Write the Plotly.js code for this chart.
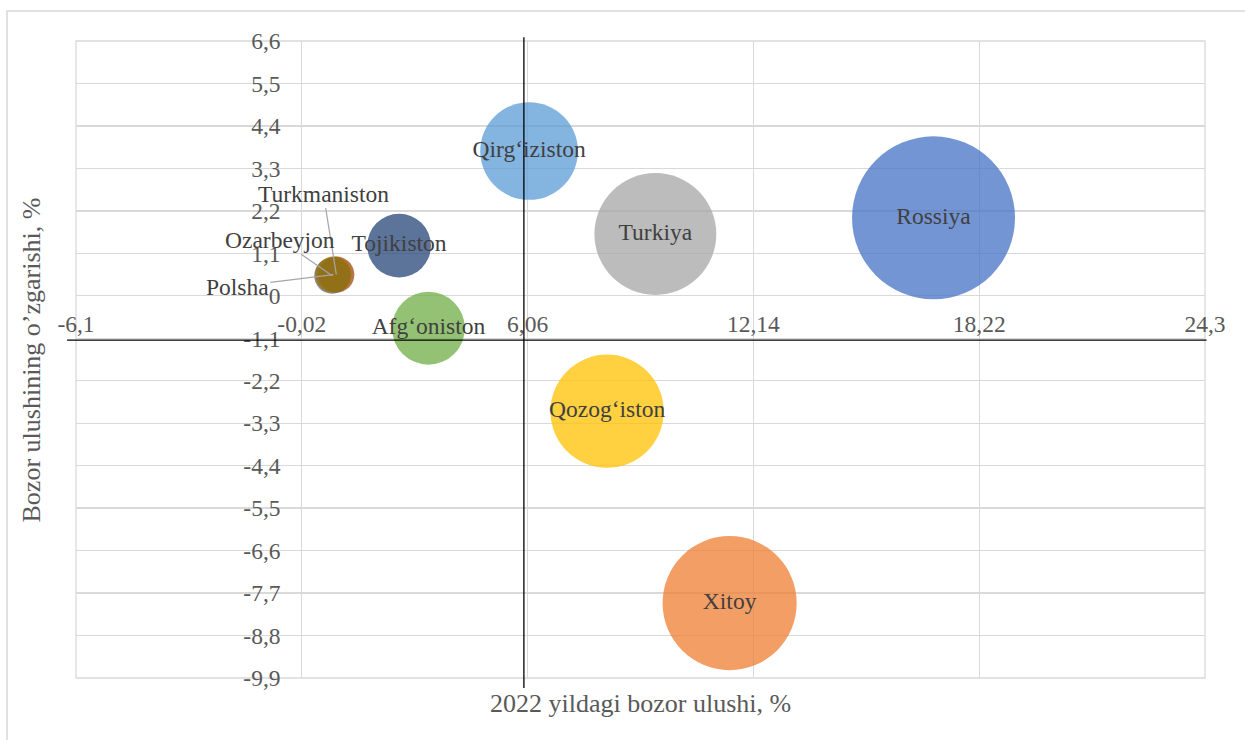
<!DOCTYPE html>
<html>
<head>
<meta charset="utf-8">
<script src="https://cdn.plot.ly/plotly-3.0.1.min.js"></script>
<style>html,body{margin:0;padding:0;background:#fff;}#chart{width:1245px;height:740px;}</style>
</head>
<body>
<div id="chart"></div>
<script>
// ---- data ----
const countries = ['Rossiya','Xitoy','Turkiya','Qozog‘iston','Qirg‘iziston','Afg‘oniston','Tojikiston','Turkmaniston','Ozarbeyjon','Polsha'];
const marketShare2022 = [16.99, 11.50, 9.50, 8.20, 6.10, 3.39, 2.60, 0.91, 0.80, 0.83];
const shareChange = [2.02, -7.96, 1.60, -2.99, 3.75, -0.84, 1.30, 0.55, 0.52, 0.55];
const bubbleSize = [16.99, 11.50, 9.50, 8.20, 6.10, 3.39, 2.60, 0.83, 0.83, 0.83];
const leaderLabelled = ['Turkmaniston','Ozarbeyjon','Polsha'];
const averageX = [5.96];
const averageY = [-1.15];
const xTickVals = [-6.1, -0.02, 6.06, 12.14, 18.22, 24.3];
const xTickText = ['-6,1', '-0,02', '6,06', '12,14', '18,22', '24,3'];
const yTickVals = [6.6, 5.5, 4.4, 3.3, 2.2, 1.1, 0, -1.1, -2.2, -3.3, -4.4, -5.5, -6.6, -7.7, -8.8, -9.9];
const yTickText = ['6,6','5,5','4,4','3,3','2,2','1,1','0','-1,1','-2,2','-3,3','-4,4','-5,5','-6,6','-7,7','-8,8','-9,9'];
const xTitle = '2022 yildagi bozor ulushi, %';
const yTitle = 'Bozor ulushining o’zgarishi, %';

// ---- styles ----
const colors = ['#4472C4','#ED7D31','#A5A5A5','#FFC000','#5B9BD5','#70AD47','#264478','#9E480E','#636363','#997300'];
const xRange = [-6.1, 24.3];
const yRange = [-9.9, 6.6];
const vLineExtent = [-10.16, 6.70];  // vertical quadrant line extent (y units)
const hLineExtent = [-6.34, 24.34];  // horizontal quadrant line extent (x units)
const maxDiameter = 163;
const serif = '"Liberation Serif", "Times New Roman", serif';
const leaderOffsets = {Turkmaniston: [-13, -81], Ozarbeyjon: [-52, -36], Polsha: [-96, 12]};

const maxSize = Math.max(...bubbleSize);
const sizeref = 2 * maxSize / (maxDiameter * maxDiameter);
const yToPaper = v => (v - yRange[0]) / (yRange[1] - yRange[0]);
const xToPaper = v => (v - xRange[0]) / (xRange[1] - xRange[0]);

const trace = {
  type: 'scatter',
  mode: 'markers+text',
  x: marketShare2022,
  y: shareChange,
  text: countries.map(c => leaderLabelled.includes(c) ? '' : c),
  textposition: 'middle center',
  textfont: {family: serif, size: 23.5, color: '#404040'},
  marker: {
    size: bubbleSize,
    sizemode: 'area',
    sizeref: sizeref,
    color: colors,
    opacity: 0.75,
    line: {width: 0}
  },
  hoverinfo: 'none',
  cliponaxis: false
};

const annotations = [
  {xref: 'paper', yref: 'paper', x: 0.5, y: -0.04, yanchor: 'middle', showarrow: false,
   text: xTitle, font: {family: serif, size: 26, color: '#595959'}},
  {xref: 'paper', yref: 'paper', x: -0.039, y: 0.5, xanchor: 'center', yanchor: 'middle', textangle: -90, showarrow: false,
   text: yTitle, font: {family: serif, size: 26, color: '#595959'}}
];
leaderLabelled.forEach(name => {
  const i = countries.indexOf(name);
  annotations.push({
    xref: 'x', yref: 'y', x: marketShare2022[i], y: shareChange[i],
    text: name, showarrow: true, arrowhead: 0, arrowwidth: 1.2, arrowcolor: '#a6a6a6',
    ax: leaderOffsets[name][0], ay: leaderOffsets[name][1], standoff: 0,
    font: {family: serif, size: 23.5, color: '#404040'}
  });
});

const shapes = [
  // outer chart frame
  {type: 'rect', xref: 'paper', yref: 'paper', x0: -0.0611, x1: 1.2, y0: -0.3, y1: 1.0471,
   line: {color: '#d9d9d9', width: 1.5}, layer: 'below'},
  // plot area border
  {type: 'rect', xref: 'paper', yref: 'paper', x0: 0, x1: 1, y0: 0, y1: 1,
   line: {color: '#d9d9d9', width: 1.3}, layer: 'below'},
  // quadrant lines
  {type: 'line', xref: 'x', yref: 'paper', x0: averageX[0], x1: averageX[0],
   y0: yToPaper(vLineExtent[0]), y1: yToPaper(vLineExtent[1]), line: {color: '#000000', width: 1.3}, layer: 'above'},
  {type: 'line', xref: 'paper', yref: 'y', y0: averageY[0], y1: averageY[0],
   x0: xToPaper(hLineExtent[0]), x1: xToPaper(hLineExtent[1]), line: {color: '#000000', width: 1.3}, layer: 'above'}
];

const axisCommon = {
  tickmode: 'array', showgrid: true, gridcolor: '#d9d9d9', gridwidth: 1.3,
  zeroline: false, showline: false, ticks: '', fixedrange: true,
  tickfont: {family: serif, size: 23.5, color: '#595959'}
};

const layout = {
  width: 1245, height: 740,
  margin: {l: 76, r: 40, t: 41, b: 62, pad: 0},
  paper_bgcolor: '#ffffff', plot_bgcolor: '#ffffff',
  showlegend: false,
  separators: ', ',
  xaxis: Object.assign({}, axisCommon, {
    range: xRange, tickvals: xTickVals, ticktext: xTickText,
    anchor: 'free', position: yToPaper(0), ticklabelstandoff: 12
  }),
  yaxis: Object.assign({}, axisCommon, {
    range: yRange, tickvals: yTickVals, ticktext: yTickText,
    anchor: 'free', position: xToPaper(0), ticklabelstandoff: 22
  }),
  annotations: annotations,
  shapes: shapes,
  hovermode: false
};

Plotly.newPlot('chart', [trace], layout, {staticPlot: true, displayModeBar: false});
</script>
</body>
</html>
